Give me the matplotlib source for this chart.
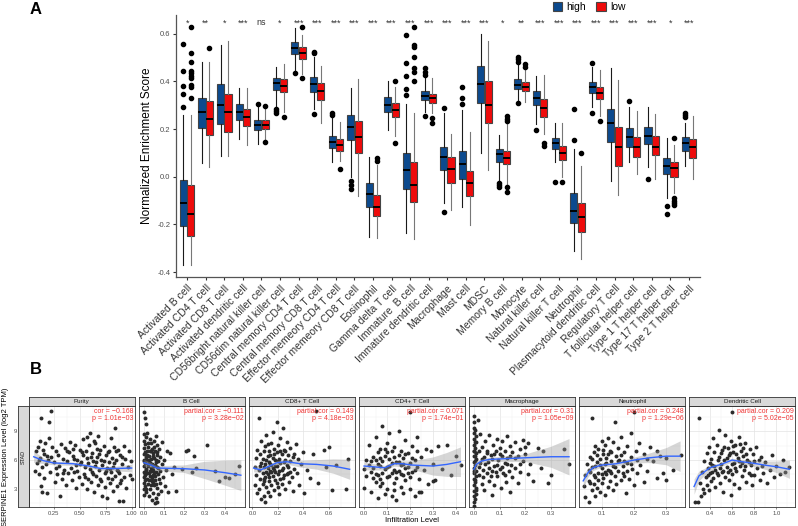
import numpy as np
import matplotlib
matplotlib.use("Agg")
import matplotlib.pyplot as plt
from matplotlib.patches import Patch
from matplotlib.ticker import AutoMinorLocator

plt.rcParams['font.family'] = ['Liberation Sans', 'DejaVu Sans']

W, H = 798, 526

# === Panel A : boxplots ===
cells = ["Activated B cell", "Activated CD4 T cell", "Activated CD8 T cell",
         "Activated dendritic cell", "CD56bright natural killer cell",
         "CD56dim natural killer cell", "Central memory CD4 T cell",
         "Central memory CD8 T cell", "Effector memeory CD4 T cell",
         "Effector memeory CD8 T cell", "Eosinophil", "Gamma delta T cell",
         "Immature  B cell", "Immature dendritic cell", "Macrophage", "Mast cell",
         "MDSC", "Memory B cell", "Monocyte", "Natural killer cell",
         "Natural killer T cell", "Neutrophil", "Plasmacytoid dendritic cell",
         "Regulatory T cell", "T follicular helper cell", "Type 1 T helper cell",
         "Type 17 T helper cell", "Type 2 T helper cell"]
sig = ["*", "**", "*", "***", "ns", "*", "***", "***", "***", "***", "***", "***",
       "***", "***", "***", "***", "***", "*", "**", "***", "***", "***", "***",
       "***", "***", "***", "*", "***"]

high_lo = [-0.370, 0.059, 0.087, 0.158, 0.137, 0.294, 0.447, 0.285, 0.063, 0.000, -0.251, 0.196, -0.237, 0.273,
           -0.109, -0.128, 0.101, -0.018, 0.322, 0.221, 0.063, -0.310, 0.294, -0.017, 0.063, 0.042, -0.091, 0.045]
high_q1 = [-0.205, 0.204, 0.222, 0.236, 0.194, 0.364, 0.515, 0.357, 0.119, 0.153, -0.126, 0.270, -0.053, 0.322,
           0.028, -0.011, 0.308, 0.063, 0.368, 0.301, 0.115, -0.195, 0.352, 0.144, 0.126, 0.137, 0.010, 0.109]
high_med = [-0.109, 0.273, 0.302, 0.273, 0.218, 0.394, 0.541, 0.389, 0.147, 0.210, -0.074, 0.301, 0.027, 0.338,
            0.084, 0.053, 0.389, 0.094, 0.385, 0.331, 0.140, -0.142, 0.378, 0.224, 0.165, 0.172, 0.045, 0.140]
high_q3 = [-0.014, 0.329, 0.389, 0.303, 0.236, 0.415, 0.566, 0.419, 0.172, 0.260, -0.028, 0.333, 0.101, 0.361,
           0.126, 0.109, 0.466, 0.116, 0.410, 0.359, 0.161, -0.070, 0.399, 0.284, 0.203, 0.207, 0.077, 0.165]
high_hi = [0.259, 0.480, 0.552, 0.372, 0.294, 0.459, 0.622, 0.503, 0.249, 0.371, 0.084, 0.401, 0.305, 0.413,
           0.266, 0.280, 0.598, 0.175, 0.468, 0.424, 0.224, 0.115, 0.461, 0.454, 0.294, 0.291, 0.161, 0.224]
high_fliers = [[0.555, 0.442, 0.380, 0.345, 0.294], [], [], [], [0.303], [0.284, 0.276, 0.266], [0.436],
               [0.524, 0.517, 0.263], [0.266, 0.259], [-0.017, -0.035, -0.052], [], [],
               [0.594, 0.475, 0.424, 0.366, 0.343], [0.454, 0.440, 0.426, 0.255], [0.289, -0.147],
               [0.378, 0.329, 0.305], [], [-0.025, -0.033, -0.042], [0.503, 0.494, 0.482, 0.308], [0.196],
               [-0.021], [0.284, 0.154], [0.478, 0.266], [], [0.319], [-0.010], [-0.123, -0.156],
               [0.266, 0.259, 0.249]]

low_lo = [-0.370, 0.039, 0.087, 0.134, 0.155, 0.273, 0.430, 0.224, 0.067, -0.081, -0.258, 0.171, -0.262, 0.269,
          -0.140, -0.202, 0.028, -0.035, 0.315, 0.179, 0.000, -0.346, 0.255, -0.077, 0.011, -0.011, -0.067, -0.010]
low_q1 = [-0.249, 0.176, 0.189, 0.214, 0.200, 0.354, 0.492, 0.322, 0.109, 0.098, -0.165, 0.249, -0.107, 0.308,
          -0.025, -0.079, 0.227, 0.052, 0.361, 0.252, 0.070, -0.230, 0.324, 0.046, 0.084, 0.091, 0.000, 0.080]
low_med = [-0.155, 0.241, 0.273, 0.250, 0.218, 0.380, 0.520, 0.359, 0.133, 0.165, -0.126, 0.280, -0.035, 0.329,
           0.034, -0.025, 0.301, 0.080, 0.378, 0.287, 0.101, -0.170, 0.350, 0.126, 0.123, 0.123, 0.035, 0.123]
low_q3 = [-0.035, 0.316, 0.345, 0.282, 0.236, 0.408, 0.545, 0.394, 0.158, 0.234, -0.077, 0.310, 0.063, 0.347,
          0.084, 0.025, 0.401, 0.109, 0.399, 0.324, 0.129, -0.109, 0.378, 0.207, 0.165, 0.171, 0.060, 0.157]
low_hi = [0.259, 0.482, 0.569, 0.372, 0.285, 0.473, 0.595, 0.464, 0.228, 0.408, 0.049, 0.375, 0.269, 0.413,
          0.179, 0.186, 0.569, 0.224, 0.450, 0.426, 0.227, 0.045, 0.447, 0.405, 0.277, 0.263, 0.133, 0.256]
low_fliers = [[0.626, 0.517, 0.482, 0.443, 0.433, 0.422, 0.412, 0.385, 0.378, 0.331], [0.540], [], [],
              [0.297, 0.144], [0.252], [0.627, 0.413], [], [0.031], [], [0.077, 0.067], [0.401, 0.140],
              [0.626, 0.552, 0.542, 0.503, 0.454, 0.440, 0.401], [0.245, 0.224], [], [], [],
              [0.255, 0.243, 0.232, -0.042, -0.066], [0.473, 0.461], [0.140, 0.129], [-0.021], [0.101],
              [0.235], [], [], [], [0.164, -0.091, -0.100, -0.109, -0.119], []]

# === Panel B : scatter + loess ===
purity_pts = [(0.07,4.9),(0.08,6.9),(0.09,5.7),(0.10,7.4),(0.11,4.5),(0.12,8.0),(0.12,6.2),(0.13,10.4),(0.13,3.3),
              (0.14,5.3),(0.14,2.7),(0.15,7.1),(0.16,4.1),(0.16,6.6),(0.17,7.8),(0.18,5.6),(0.19,2.6),(0.20,6.0),
              (0.21,8.3),(0.21,10.0),(0.22,4.8),(0.23,6.3),(0.23,11.1),(0.24,7.4),(0.25,5.8),(0.26,3.7),(0.27,7.0),
              (0.28,4.5),(0.29,6.5),(0.30,5.4),(0.31,2.2),(0.32,7.7),(0.33,4.0),(0.34,6.1),(0.35,5.0),(0.36,7.3),
              (0.37,3.4),(0.38,5.9),(0.39,4.6),(0.40,6.8),(0.41,7.9),(0.42,5.2),(0.43,3.9),(0.44,6.4),(0.45,4.8),
              (0.46,7.6),(0.47,5.5),(0.47,3.1),(0.48,6.0),(0.49,4.2),(0.50,7.1),(0.51,5.8),(0.52,3.5),(0.53,8.2),
              (0.53,6.5),(0.54,4.5),(0.55,5.3),(0.56,7.0),(0.57,3.0),(0.57,6.2),(0.58,4.0),(0.59,7.6),(0.60,5.1),
              (0.60,8.8),(0.61,3.7),(0.62,6.7),(0.62,4.8),(0.63,5.9),(0.64,2.7),(0.65,7.8),(0.65,5.4),(0.66,4.3),
              (0.67,6.3),(0.68,3.4),(0.68,8.5),(0.69,5.0),(0.70,7.1),(0.70,4.0),(0.71,6.0),(0.72,2.3),(0.72,5.5),
              (0.73,7.5),(0.74,4.6),(0.74,3.2),(0.75,6.5),(0.76,2.0),(0.76,5.2),(0.77,4.1),(0.78,7.0),(0.78,5.8),
              (0.79,3.6),(0.80,8.3),(0.80,4.8),(0.81,6.2),(0.82,2.8),(0.82,5.3),(0.83,7.4),(0.84,9.4),(0.84,4.3),
              (0.85,6.0),(0.86,3.3),(0.86,5.0),(0.87,7.1),(0.88,1.7),(0.88,4.6),(0.89,6.5),(0.90,3.9),(0.91,5.6),
              (0.92,1.7),(0.93,7.5),(0.93,4.2),(0.94,6.1),(0.95,3.1),(0.96,5.3),(0.97,7.0),(0.98,4.4),(0.99,5.9),
              (1.00,4.0),(0.45,6.1),(0.48,4.9),(0.50,5.6),(0.52,6.8),(0.55,4.2),(0.58,5.7),(0.61,6.3),(0.63,4.5),
              (0.66,5.8),(0.67,7.2),(0.69,6.6),(0.71,3.8),(0.73,5.9),(0.75,4.9),(0.77,6.8),(0.79,5.1),(0.81,4.0),
              (0.83,5.7),(0.85,6.9),(0.87,4.9),(0.89,3.6),(0.91,6.3),(0.57,8.4),(0.64,8.0),(0.44,7.2),(0.38,6.9),
              (0.34,4.6),(0.27,5.2),(0.19,6.4),(0.11,6.0)]
purity_fit_x = [0.06, 0.15, 0.25, 0.44, 0.59, 0.70, 0.85, 1.00]
purity_fit_y = [6.35, 5.95, 5.70, 5.62, 5.38, 5.12, 5.12, 5.17]
purity_fit_se = [0.60, 0.30, 0.20, 0.18, 0.18, 0.20, 0.25, 0.40]

bcell_pts = [(0.0,11.0),(0.005,10.4),(0.01,9.8),(0.0,8.7),(0.0,8.0),(0.0,7.3),(0.0,6.6),(0.0,6.0),(0.0,5.4),(0.0,4.8),
             (0.0,4.2),(0.0,3.6),(0.0,3.0),(0.0,2.4),(0.005,7.7),(0.006,5.7),(0.007,4.5),(0.008,3.3),(0.01,8.4),
             (0.01,6.3),(0.012,5.1),(0.012,2.7),(0.015,7.0),(0.015,4.0),(0.017,6.0),(0.018,8.8),(0.02,5.4),(0.02,3.5),
             (0.022,7.4),(0.023,4.7),(0.025,6.4),(0.026,2.2),(0.027,5.8),(0.028,8.2),(0.03,4.3),(0.03,6.9),(0.032,3.0),
             (0.033,5.2),(0.035,7.8),(0.036,4.9),(0.037,6.1),(0.038,1.8),(0.04,3.8),(0.04,5.6),(0.042,7.2),(0.043,4.4),
             (0.045,6.7),(0.046,2.6),(0.047,5.0),(0.048,8.0),(0.05,3.4),(0.05,6.2),(0.052,4.6),(0.053,1.5),(0.055,5.5),
             (0.056,7.0),(0.057,3.9),(0.058,2.0),(0.06,6.0),(0.06,4.8),(0.062,8.5),(0.063,1.6),(0.064,5.3),(0.065,3.1),
             (0.066,7.6),(0.067,6.5),(0.068,2.5),(0.07,4.5),(0.072,5.9),(0.075,7.2),(0.078,3.6),(0.08,6.3),(0.082,4.9),
             (0.085,2.8),(0.088,5.6),(0.09,7.9),(0.095,4.2),(0.1,6.0),(0.105,3.3),(0.11,5.0),(0.115,7.0),(0.12,2.7),
             (0.13,6.7),(0.14,4.5),(0.15,5.3),(0.16,2.8),(0.19,5.1),(0.21,6.9),(0.22,7.1),(0.24,4.8),(0.25,6.4),
             (0.26,5.2),(0.31,7.6),(0.35,4.9),(0.37,3.8),(0.40,4.2),(0.42,4.1),(0.45,4.5),(0.47,5.4),
             (0.003,5.9),(0.004,4.4),(0.006,3.9),(0.008,6.8),(0.01,5.0),(0.012,3.0),(0.014,6.5),(0.016,4.6),
             (0.019,5.6),(0.021,7.8),(0.024,3.9),(0.026,6.0),(0.029,4.9),(0.031,5.7),(0.034,3.4),(0.036,7.0),
             (0.039,5.2),(0.041,4.1),(0.044,6.4),(0.047,3.6),(0.049,5.4),(0.051,7.4),(0.054,4.3),(0.058,5.8),
             (0.061,3.5),(0.064,6.8),(0.069,5.2),(0.074,4.0)]
bcell_fit_x = [0.0, 0.04, 0.065, 0.2, 0.3, 0.4, 0.48]
bcell_fit_y = [5.73, 5.45, 5.17, 5.10, 4.97, 4.69, 4.42]
bcell_fit_se = [0.35, 0.25, 0.25, 0.40, 0.90, 1.30, 1.60]

cd8_pts = [(0.02,5.3),(0.02,3.4),(0.03,6.2),(0.03,4.4),(0.04,2.6),(0.04,7.1),(0.05,10.4),(0.05,5.0),(0.05,3.0),
           (0.06,6.6),(0.06,4.0),(0.07,1.9),(0.07,5.7),(0.07,8.0),(0.08,4.7),(0.08,3.5),(0.09,6.9),(0.09,2.3),
           (0.09,5.3),(0.10,7.5),(0.10,4.2),(0.10,1.6),(0.11,6.0),(0.11,3.2),(0.11,8.6),(0.12,5.2),(0.12,4.5),
           (0.12,2.7),(0.13,7.0),(0.13,5.8),(0.13,3.8),(0.14,6.5),(0.14,4.9),(0.14,2.2),(0.15,7.8),(0.15,5.5),
           (0.15,3.4),(0.16,6.2),(0.16,4.3),(0.16,8.9),(0.17,5.0),(0.17,2.9),(0.17,7.2),(0.18,6.0),(0.18,3.9),
           (0.18,4.8),(0.19,10.0),(0.19,6.8),(0.19,5.4),(0.20,3.2),(0.20,7.6),(0.20,4.5),(0.21,6.1),(0.21,2.5),
           (0.22,5.7),(0.22,8.3),(0.22,4.0),(0.23,6.6),(0.23,3.5),(0.24,9.3),(0.24,5.2),(0.25,7.1),(0.25,4.4),
           (0.26,6.0),(0.26,3.0),(0.27,5.5),(0.27,7.9),(0.28,4.7),(0.28,6.5),(0.29,3.7),(0.30,5.9),(0.30,7.3),
           (0.31,4.2),(0.32,6.3),(0.32,2.8),(0.33,5.1),(0.34,7.7),(0.35,4.6),(0.36,6.1),(0.37,3.4),(0.38,5.6),
           (0.40,6.8),(0.41,2.6),(0.43,5.0),(0.45,4.1),(0.48,6.6),(0.50,11.1),(0.52,3.6),(0.56,7.1),(0.58,5.3),
           (0.60,7.4),(0.63,2.9),(0.66,5.5),(0.74,3.0),(0.75,6.1),
           (0.06,5.4),(0.08,6.1),(0.09,4.0),(0.10,5.6),(0.11,4.8),(0.12,6.4),(0.13,4.2),(0.14,5.6),(0.15,4.8),
           (0.16,5.2),(0.17,6.6),(0.18,5.4),(0.19,3.6),(0.20,5.9),(0.21,4.9),(0.22,6.9),(0.23,5.0),(0.24,4.1),
           (0.25,5.8),(0.26,7.0),(0.27,4.5),(0.28,5.3),(0.30,4.8),(0.33,6.6),(0.12,7.7),(0.09,3.8)]
cd8_fit_x = [0.01, 0.065, 0.117, 0.195, 0.27, 0.377, 0.506, 0.636, 0.766]
cd8_fit_y = [5.17, 4.97, 5.28, 5.73, 5.83, 5.62, 5.55, 5.38, 5.04]
cd8_fit_se = [0.40, 0.25, 0.22, 0.22, 0.25, 0.35, 0.50, 0.75, 1.05]

cd4_pts = [(0.0,5.1),(0.0,3.1),(0.01,6.0),(0.01,4.3),(0.02,5.5),(0.02,7.6),(0.03,4.8),(0.03,2.7),(0.04,6.3),
           (0.04,5.2),(0.05,3.7),(0.05,8.4),(0.05,4.5),(0.06,6.8),(0.06,5.6),(0.06,2.0),(0.07,4.0),(0.07,7.2),
           (0.07,3.3),(0.08,5.9),(0.08,4.7),(0.08,9.6),(0.09,6.4),(0.09,2.5),(0.09,5.1),(0.10,7.8),(0.10,4.2),
           (0.10,3.0),(0.11,6.1),(0.11,5.4),(0.11,8.8),(0.12,4.6),(0.12,2.2),(0.12,6.9),(0.13,5.0),(0.13,3.6),
           (0.13,7.4),(0.14,5.8),(0.14,4.1),(0.14,1.8),(0.15,6.5),(0.15,4.9),(0.15,9.0),(0.16,3.2),(0.16,5.5),
           (0.16,7.0),(0.17,4.4),(0.17,6.2),(0.17,2.6),(0.18,5.2),(0.18,8.1),(0.18,3.9),(0.19,6.7),(0.19,4.6),
           (0.20,11.0),(0.20,5.7),(0.20,3.0),(0.21,7.5),(0.21,4.8),(0.22,6.0),(0.22,2.3),(0.23,5.3),(0.23,8.4),
           (0.24,4.0),(0.24,2.7),(0.25,6.3),(0.25,2.7),(0.26,5.0),(0.27,7.2),(0.28,3.5),(0.29,7.0),(0.30,3.8),
           (0.30,5.6),(0.31,3.9),(0.32,7.5),(0.34,5.1),(0.36,7.6),(0.38,4.4),(0.40,6.4),(0.42,5.5),
           (0.03,5.9),(0.04,4.1),(0.05,6.0),(0.06,4.4),(0.07,5.4),(0.08,3.6),(0.09,7.2),(0.10,5.3),(0.11,4.3),
           (0.12,5.7),(0.13,6.3),(0.14,4.8),(0.15,5.8),(0.16,4.5),(0.17,5.6),(0.18,6.6),(0.19,5.3),(0.20,4.2),
           (0.21,6.2),(0.22,5.0),(0.23,6.9),(0.10,6.8),(0.13,2.9),(0.07,6.2)]
cd4_fit_x = [0.0, 0.09, 0.13, 0.167, 0.21, 0.30, 0.36, 0.42]
cd4_fit_y = [5.38, 5.20, 5.62, 5.62, 5.48, 5.38, 5.55, 5.83]
cd4_fit_se = [0.40, 0.25, 0.25, 0.30, 0.45, 0.95, 1.25, 1.55]

macro_pts = [(0.0,10.6),(0.0,10.0),(0.0,9.4),(0.0,8.8),(0.0,8.2),(0.0,7.6),(0.0,7.0),(0.0,6.4),(0.0,5.8),(0.0,5.2),
             (0.0,4.6),(0.0,4.0),(0.0,3.4),(0.0,2.8),(0.0,2.2),(0.0,1.6),(0.0,1.2),(0.005,9.1),(0.005,7.3),(0.005,5.5),
             (0.005,3.7),(0.005,1.9),(0.008,8.5),(0.008,6.7),(0.008,4.9),(0.008,3.1),(0.01,7.9),(0.01,6.1),(0.01,4.3),
             (0.01,2.5),(0.015,10.2),(0.02,6.9),(0.02,4.4),(0.025,8.7),(0.025,5.7),(0.03,3.5),(0.03,7.4),(0.035,5.0),
             (0.04,6.3),(0.04,2.9),(0.045,8.0),(0.05,4.6),(0.05,7.0),(0.055,5.8),(0.06,3.8),(0.06,8.6),(0.065,6.5),
             (0.07,4.9),(0.07,2.4),(0.075,7.6),(0.08,5.4),(0.08,3.4),(0.085,6.9),(0.09,8.2),(0.09,4.3),(0.095,6.0),
             (0.10,7.3),(0.10,5.1),(0.105,3.1),(0.11,8.0),(0.11,6.4),(0.115,4.6),(0.12,7.0),(0.12,5.7),(0.125,3.7),
             (0.13,8.5),(0.13,6.2),(0.135,4.9),(0.14,7.5),(0.14,2.7),(0.145,5.5),(0.15,6.8),(0.15,4.2),(0.16,7.9),
             (0.16,5.2),(0.17,6.4),(0.17,3.6),(0.18,7.2),(0.18,4.8),(0.19,8.1),(0.19,5.9),(0.20,6.6),(0.21,4.5),
             (0.21,7.8),(0.22,5.6),(0.23,3.8),(0.25,7.3),(0.26,5.2),(0.27,6.9),(0.29,3.6),(0.30,4.4),(0.35,7.2),
             (0.37,5.6),
             (0.002,6.9),(0.002,4.9),(0.003,3.9),(0.003,7.9),(0.004,5.9),(0.006,6.4),(0.007,2.9),(0.02,5.3),
             (0.03,6.1),(0.035,4.2),(0.045,5.6),(0.05,6.7),(0.06,5.2),(0.065,4.3),(0.07,6.1),(0.08,6.6),
             (0.085,4.8),(0.09,5.5),(0.1,6.6),(0.11,5.3),(0.12,4.4),(0.13,5.6),(0.14,6.4),(0.16,6.2),(0.18,5.6),
             (0.2,7.4)]
macro_fit_x = [0.0, 0.01, 0.03, 0.06, 0.2, 0.3, 0.37]
macro_fit_y = [5.04, 5.55, 5.90, 6.07, 6.24, 6.35, 6.35]
macro_fit_se = [0.60, 0.35, 0.25, 0.22, 0.40, 1.10, 1.90]

neutro_pts = [(0.045,3.3),(0.05,4.4),(0.05,2.1),(0.055,5.6),(0.06,3.8),(0.06,1.6),(0.065,6.3),(0.065,4.8),(0.07,2.9),
              (0.07,5.3),(0.07,10.4),(0.075,3.5),(0.075,6.8),(0.08,4.2),(0.08,2.2),(0.08,7.5),(0.085,5.8),(0.085,3.1),
              (0.09,7.2),(0.09,4.7),(0.095,6.1),(0.095,2.7),(0.10,5.2),(0.10,8.0),(0.10,3.6),(0.105,6.6),(0.105,4.1),
              (0.11,7.6),(0.11,5.6),(0.11,2.4),(0.115,4.5),(0.115,6.2),(0.12,3.2),(0.12,8.3),(0.12,5.0),(0.125,7.0),
              (0.125,3.8),(0.13,5.9),(0.13,4.6),(0.135,7.9),(0.135,2.9),(0.14,10.0),(0.14,5.3),(0.145,3.5),(0.145,6.4),
              (0.15,4.9),(0.15,7.3),(0.155,6.0),(0.16,3.9),(0.16,8.4),(0.165,5.4),(0.17,6.8),(0.17,4.3),(0.175,2.6),
              (0.18,7.5),(0.18,5.7),(0.185,4.0),(0.19,6.3),(0.19,8.8),(0.195,5.1),(0.20,11.0),(0.20,3.4),(0.205,6.9),
              (0.21,4.6),(0.215,7.8),(0.22,5.5),(0.23,3.7),(0.23,6.6),(0.24,4.9),(0.25,7.4),(0.26,5.9),(0.27,4.1),
              (0.28,6.4),(0.29,4.7),(0.30,6.2),(0.30,3.9),(0.32,5.0),(0.345,6.5),
              (0.06,5.0),(0.065,3.6),(0.07,6.1),(0.075,4.4),(0.08,5.4),(0.085,6.5),(0.09,3.9),(0.095,5.5),
              (0.10,4.5),(0.105,7.1),(0.11,4.8),(0.115,5.7),(0.12,6.6),(0.125,4.9),(0.13,6.8),(0.135,5.4),
              (0.14,4.3),(0.15,5.9),(0.16,6.5),(0.165,4.7),(0.17,5.9),(0.18,4.9),(0.19,5.6),(0.21,6.0),
              (0.24,6.1),(0.27,6.9)]
neutro_fit_x = [0.043, 0.058, 0.073, 0.10, 0.146, 0.20, 0.248, 0.30, 0.343]
neutro_fit_y = [3.83, 4.69, 5.20, 5.48, 5.62, 6.00, 6.24, 6.41, 6.41]
neutro_fit_se = [0.70, 0.45, 0.30, 0.22, 0.22, 0.30, 0.50, 0.90, 1.60]

dc_pts = [(0.26,1.6),(0.29,1.6),(0.30,10.4),(0.31,3.6),(0.32,2.2),(0.33,4.8),(0.34,3.0),(0.35,5.9),(0.35,2.6),
          (0.36,4.2),(0.37,6.7),(0.37,3.4),(0.38,5.2),(0.39,7.4),(0.39,2.9),(0.40,4.6),(0.41,6.1),(0.41,3.8),
          (0.42,5.5),(0.43,8.3),(0.43,4.1),(0.44,6.8),(0.45,3.2),(0.45,5.0),(0.46,7.6),(0.47,4.4),(0.48,6.3),
          (0.48,9.1),(0.49,3.6),(0.50,5.6),(0.51,7.1),(0.51,4.8),(0.52,2.7),(0.53,6.0),(0.54,8.6),(0.54,4.2),
          (0.55,5.3),(0.56,7.3),(0.57,3.9),(0.57,6.5),(0.58,5.0),(0.59,8.0),(0.59,2.4),(0.60,11.0),(0.60,4.5),
          (0.61,6.8),(0.62,5.7),(0.62,3.5),(0.63,7.6),(0.64,4.9),(0.65,6.2),(0.66,8.4),(0.66,3.1),(0.67,5.4),
          (0.68,7.0),(0.69,4.3),(0.70,6.4),(0.71,5.0),(0.72,7.8),(0.73,3.7),(0.74,6.0),(0.75,4.7),(0.76,7.2),
          (0.77,5.5),(0.78,3.4),(0.79,6.6),(0.80,4.4),(0.82,7.4),(0.83,5.2),(0.85,3.9),(0.86,6.3),(0.88,4.7),
          (0.90,5.8),(0.92,3.6),(0.94,5.0),(0.96,6.5),(0.98,4.2),(1.00,5.4),(1.03,4.5),(1.06,6.0),(1.08,4.8),
          (1.12,5.3),
          (0.38,4.4),(0.40,5.7),(0.42,4.8),(0.44,5.4),(0.46,4.6),(0.47,6.0),(0.49,5.2),(0.50,6.7),(0.52,4.9),
          (0.53,7.4),(0.55,6.2),(0.56,4.8),(0.58,6.7),(0.60,5.6),(0.61,7.5),(0.63,5.2),(0.64,6.6),(0.66,5.9),
          (0.67,7.7),(0.69,5.7),(0.70,7.3),(0.72,5.4),(0.73,6.6),(0.75,5.8),(0.77,4.4),(0.80,5.9),(0.84,6.0),
          (0.87,5.4)]
dc_fit_x = [0.256, 0.30, 0.40, 0.50, 0.60, 0.69, 0.80, 0.91, 1.00, 1.12]
dc_fit_y = [3.24, 4.35, 5.20, 5.55, 6.00, 5.83, 5.66, 5.45, 5.31, 5.04]
dc_fit_se = [0.80, 0.50, 0.25, 0.20, 0.20, 0.22, 0.30, 0.45, 0.60, 0.95]

strip_names = ["Purity", "B Cell", "CD8+ T Cell", "CD4+ T Cell", "Macrophage", "Neutrophil", "Dendritic Cell"]
cor_labels = ["cor = \u22120.168", "partial.cor = \u22120.111", "partial.cor = 0.149", "partial.cor = 0.071",
              "partial.cor = 0.31", "partial.cor = 0.248", "partial.cor = 0.209"]
p_labels = ["p = 1.01e\u221203", "p = 3.28e\u221202", "p = 4.18e\u221203", "p = 1.74e\u221201",
            "p = 1.05e\u221209", "p = 1.29e\u221206", "p = 5.02e\u221205"]
x_ticks = [[0.25, 0.5, 0.75, 1.0], [0.0, 0.1, 0.2, 0.3, 0.4], [0.0, 0.2, 0.4, 0.6],
           [0.0, 0.1, 0.2, 0.3, 0.4], [0.0, 0.1, 0.2, 0.3], [0.1, 0.2, 0.3], [0.4, 0.6, 0.8, 1.0]]
x_tick_labels = [["0.25", "0.50", "0.75", "1.00"], ["0.0", "0.1", "0.2", "0.3", "0.4"],
                 ["0.0", "0.2", "0.4", "0.6"], ["0.0", "0.1", "0.2", "0.3", "0.4"],
                 ["0.0", "0.1", "0.2", "0.3"], ["0.1", "0.2", "0.3"], ["0.4", "0.6", "0.8", "1.0"]]
x_lims = [(0.01, 1.03), (-0.026, 0.50), (-0.029, 0.808), (-0.023, 0.44),
          (-0.019, 0.394), (0.030, 0.359), (0.211, 1.174)]

BLUE = "#0C4A8E"
RED = "#EE0B0B"


def fx(px):
    return px / W


def fy(py):
    return 1 - py / H


fig = plt.figure(figsize=(W / 100, H / 100), dpi=100)

# === A ===
axA = fig.add_axes([fx(176), fy(277), (700 - 176) / W, (277 - 15) / H])
pos = np.arange(1, len(cells) + 1)


def make_stats(lo, q1, med, q3, hi, fl):
    return [dict(whislo=a, q1=b, med=c, q3=d, whishi=e, fliers=f)
            for a, b, c, d, e, f in zip(lo, q1, med, q3, hi, fl)]


for stats, off, col, wcol in [
    (make_stats(high_lo, high_q1, high_med, high_q3, high_hi, high_fliers), -0.2, BLUE, "#1a1a1a"),
    (make_stats(low_lo, low_q1, low_med, low_q3, low_hi, low_fliers), 0.2, RED, "#777777"),
]:
    axA.bxp(stats, positions=pos + off, widths=0.38, patch_artist=True, showcaps=False,
            boxprops=dict(facecolor=col, edgecolor="#444444", linewidth=0.8),
            medianprops=dict(color="black", linewidth=1.4),
            whiskerprops=dict(color=wcol, linewidth=0.8),
            flierprops=dict(marker="o", markerfacecolor="black", markeredgecolor="black", markersize=3))

for p, s in zip(pos, sig):
    axA.text(p, 0.645, s, ha="center", va="center", fontsize=6.5, color="#333333")

axA.set_xlim(0.4, 28.6)
axA.set_ylim(-0.4205, 0.678)
axA.set_yticks([-0.4, -0.2, 0.0, 0.2, 0.4, 0.6])
axA.set_yticklabels(["-0.4", "-0.2", "0.0", "0.2", "0.4", "0.6"])
axA.set_xticks(pos)
axA.set_xticklabels(cells, rotation=45, ha="right", rotation_mode="anchor", fontsize=7.5, color="#333333")
axA.tick_params(axis="y", labelsize=5.5, labelcolor="#4D4D4D", length=2.5, color="#333333", pad=1.5)
axA.tick_params(axis="x", length=2.5, color="#333333", pad=2)
axA.set_ylabel("Normalized Enrichment Score", fontsize=8.5, labelpad=3)
for side in ["top", "right"]:
    axA.spines[side].set_visible(False)
for side in ["left", "bottom"]:
    axA.spines[side].set_color("#555555")
    axA.spines[side].set_linewidth(0.9)

handles = [Patch(facecolor=BLUE, edgecolor="#444444", linewidth=0.8),
           Patch(facecolor=RED, edgecolor="#444444", linewidth=0.8)]
fig.legend(handles, ["high", "low"], loc="center", bbox_to_anchor=(fx(589), fy(7)), ncol=2,
           frameon=False, fontsize=7.5, handlelength=0.9, handleheight=0.9,
           columnspacing=1.0, handletextpad=0.4, borderaxespad=0)

fig.text(fx(30), fy(9), "A", fontsize=12, fontweight="bold", va="center", ha="left")
fig.text(fx(30), fy(370), "B", fontsize=12, fontweight="bold", va="center", ha="left")

# === B ===
pts_all = [purity_pts, bcell_pts, cd8_pts, cd4_pts, macro_pts, neutro_pts, dc_pts]
fit_x_all = [purity_fit_x, bcell_fit_x, cd8_fit_x, cd4_fit_x, macro_fit_x, neutro_fit_x, dc_fit_x]
fit_y_all = [purity_fit_y, bcell_fit_y, cd8_fit_y, cd4_fit_y, macro_fit_y, neutro_fit_y, dc_fit_y]
fit_se_all = [purity_fit_se, bcell_fit_se, cd8_fit_se, cd4_fit_se, macro_fit_se, neutro_fit_se, dc_fit_se]

left0, step, pw = 28.5, 110.1, 106.3
top_p, bot_p, strip_top = 406, 507, 396.5

for i in range(7):
    l = left0 + i * step
    ax = fig.add_axes([fx(l), fy(bot_p), pw / W, (bot_p - top_p) / H])
    xs, ys = zip(*pts_all[i])
    ax.scatter(xs, ys, s=8, color="#2b2b2b", linewidths=0, zorder=2)
    fxv = np.array(fit_x_all[i])
    fyv = np.array(fit_y_all[i])
    fse = np.array(fit_se_all[i])
    ax.fill_between(fxv, fyv - fse, fyv + fse, color="#999999", alpha=0.4, linewidth=0, zorder=3)
    ax.plot(fxv, fyv, color="#3366FF", linewidth=1.0, zorder=4)
    ax.set_xlim(*x_lims[i])
    ax.set_ylim(1.1, 11.65)
    ax.set_xticks(x_ticks[i])
    ax.set_xticklabels(x_tick_labels[i])
    ax.set_yticks([3, 6, 9])
    ax.xaxis.set_minor_locator(AutoMinorLocator(2))
    ax.yaxis.set_minor_locator(AutoMinorLocator(2))
    ax.grid(True, which="major", color="#E3E3E3", linewidth=0.5, zorder=0)
    ax.grid(True, which="minor", color="#F0F0F0", linewidth=0.3, zorder=0)
    ax.set_axisbelow(True)
    ax.tick_params(which="minor", length=0)
    ax.tick_params(axis="x", labelsize=4.2, labelcolor="#4D4D4D", length=1.5, width=0.4, pad=1.5, color="#333333")
    if i == 0:
        ax.tick_params(axis="y", labelsize=4.2, labelcolor="#4D4D4D", length=0, pad=8)
    else:
        ax.tick_params(axis="y", left=False, labelleft=False)
    for sp in ax.spines.values():
        sp.set_color("#333333")
        sp.set_linewidth(0.6)
    ax.text(0.985, 0.985, cor_labels[i] + "\n" + p_labels[i], transform=ax.transAxes,
            ha="right", va="top", fontsize=5, color="#F03535", linespacing=1.0, zorder=5)

    sax = fig.add_axes([fx(l), fy(top_p), pw / W, (top_p - strip_top) / H])
    sax.set_facecolor("#D9D9D9")
    sax.set_xticks([])
    sax.set_yticks([])
    for sp in sax.spines.values():
        sp.set_color("#333333")
        sp.set_linewidth(0.6)
    sax.text(0.5, 0.5, strip_names[i], ha="center", va="center", fontsize=4.5, color="#1a1a1a",
             transform=sax.transAxes)

stad = fig.add_axes([fx(18), fy(bot_p), (left0 - 18) / W, (bot_p - top_p) / H])
stad.set_facecolor("#D9D9D9")
stad.set_xticks([])
stad.set_yticks([])
for sp in stad.spines.values():
    sp.set_color("#333333")
    sp.set_linewidth(0.6)
stad.text(0.5, 0.5, "STAD", rotation=90, ha="center", va="center", fontsize=4, color="#1a1a1a",
          transform=stad.transAxes)

fig.text(fx(412), fy(520), "Infiltration Level", ha="center", va="center", fontsize=5.5)
fig.text(fx(6), fy(457), "SERPINE1 Expression Level (log2 TPM)", rotation=90,
         ha="center", va="center", fontsize=5.5)

fig.savefig("out.png", dpi=100)
